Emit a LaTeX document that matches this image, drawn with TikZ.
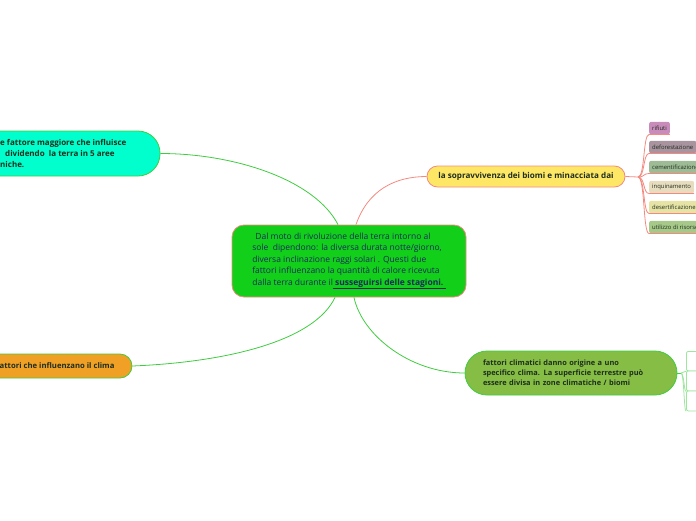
\documentclass[tikz,border=0pt]{standalone}
\usepackage{fontspec}
\setmainfont{Open Sans}
\definecolor{cgreen}{HTML}{12CF1A}
\definecolor{salmon}{HTML}{F38A80}
\definecolor{lgreen}{HTML}{3FCC3F}
\definecolor{aqua}{HTML}{00FFCC}
\definecolor{orangef}{HTML}{F0A024}
\definecolor{yellowf}{HTML}{FFE766}
\definecolor{olive}{HTML}{86BD45}
\definecolor{navy}{HTML}{1C2A5E}
\definecolor{darktxt}{HTML}{1E2E1E}
\definecolor{paleg}{HTML}{9DE69D}
\definecolor{sA}{HTML}{C98BB9}
\definecolor{sB}{HTML}{A9939F}
\definecolor{sC}{HTML}{9DBB95}
\definecolor{sD}{HTML}{E8DCBE}
\definecolor{sE}{HTML}{E6E3A5}
\definecolor{sF}{HTML}{A6C98A}
\begin{document}
\begin{tikzpicture}[x=1pt,y=-1pt,
  gline/.style={draw=lgreen,line width=0.8pt},
  sline/.style={draw=salmon,line width=0.8pt},
  pill/.style={line width=0.8pt,inner sep=0pt},
  boldtxt/.style={text=darktxt,font=\fontsize{8}{10.7}\selectfont\bfseries,align=left,inner sep=0pt},
  smallbox/.style={anchor=south west,rounded corners=2pt,minimum height=12.5pt,inner xsep=3pt,inner ysep=0pt,text=darktxt,font=\fontsize{5.9}{6.5}\selectfont},
  wbox/.style={anchor=north west,draw=paleg,fill=white,rounded corners=2pt,minimum width=40pt,line width=0.8pt}
]
\useasboundingbox (0,0) rectangle (696,520);
\clip (0,0) rectangle (696,520);

% central node
\node (c) [draw=salmon,fill=cgreen,line width=0.8pt,rounded corners=12pt,minimum width=234pt,minimum height=72pt,
  align=left,text=navy,font=\fontsize{8.5}{11.5}\selectfont,inner xsep=10pt] at (349,261)
  {\hspace{3pt}Dal moto di rivoluzione della terra intorno al\\
   sole\ \ dipendono: la diversa durata notte/giorno,\\
   diversa inclinazione raggi solari . Questi due\\
   fattori influenzano la quantità di calore ricevuta\\
   dalla terra durante il\textbf{\underline{\ susseguirsi delle stagioni.\ }}};

% top-left node (clipped)
\node (tl) [pill,draw=lgreen,fill=aqua,rounded corners=22pt,minimum width=230pt,minimum height=45pt] at (45,153.5) {};
\node (tltext) [boldtxt,anchor=west] at (0,153.5)
  {e fattore maggiore che influisce\\ \hspace{5pt}dividendo\ \ la terra in 5 aree\\ niche.};

% orange node (clipped)
\node (or) [pill,draw=lgreen,fill=orangef,rounded corners=12pt,minimum width=192pt,minimum height=24pt] at (36,366) {};
\node (ortext) [boldtxt,anchor=west,font=\fontsize{7.7}{9}\selectfont\bfseries] at (-0.5,366) {attori che influenzano il clima};

% yellow node
\node (y) [pill,draw=salmon,fill=yellowf,rounded corners=10.5pt,minimum width=198pt,minimum height=21pt,
  text=darktxt,font=\fontsize{8.1}{9}\selectfont\bfseries] at (526,176.5)
  {la sopravvivenza dei biomi e minacciata dai};

% bottom-right node
\node (br) [pill,draw=lgreen,fill=olive,rounded corners=22pt,minimum width=212pt,minimum height=44pt,
  text width=176pt,inner xsep=18pt,align=left,text=darktxt,font=\fontsize{7.4}{10}\selectfont\bfseries] at (571,373)
  {fattori climatici danno origine a uno\\ specifico clima. La superficie terrestre può\\ essere divisa in zone climatiche / biomi};

% small nodes on right
\node (s1) [smallbox,fill=sA] at (649,134.5) {rifiuti};
\node (s2) [smallbox,fill=sB] at (649,153.5) {deforestazione};
\node (s3) [smallbox,fill=sC] at (649,173.5) {cementificazione};
\node (s4) [smallbox,fill=sD] at (649,193.5) {inquinamento};
\node (s5) [smallbox,fill=sE] at (649,213.5) {desertificazione};
\node (s6) [smallbox,fill=sF] at (649,233.5) {utilizzo di risorse};

% white boxes bottom right
\node (w1) [wbox,minimum height=19.5pt] at (686,351) {};
\node (w2) [wbox,minimum height=20pt] at (686,370.5) {};
\node (w3) [wbox,minimum height=20pt] at (686,390.5) {};

% connectors
\draw[gline] (tl.east) .. controls (235,153.5) and (315,180) .. ([xshift=-11pt]c.north);
\draw[gline] (or.east) .. controls (230,362) and (315,340) .. ([xshift=-14pt]c.south);
\draw[gline] ([xshift=5pt]c.south) .. controls (362,335) and (410,373) .. (br.west);
\draw[sline] ([xshift=7pt]c.north) .. controls (368,190) and (395,176.5) .. (y.west);

\coordinate (jn) at (638,177);
\draw[sline] (y.east) -- (jn);
\foreach \n in {s1,s2,s3,s4,s5,s6}{
  \draw[sline] (jn) .. controls (645,177) and (643,0 |- \n.south west) .. (\n.south west) -- (\n.south east);
}

\coordinate (jw) at (681,373);
\draw[gline] (br.east) -- (jw);
\foreach \n in {w1,w2,w3}{
  \draw[draw=paleg,line width=0.8pt] (jw) .. controls (684,373) and (684,0 |- \n.south west) .. (\n.south west);
}
\end{tikzpicture}
\end{document}
